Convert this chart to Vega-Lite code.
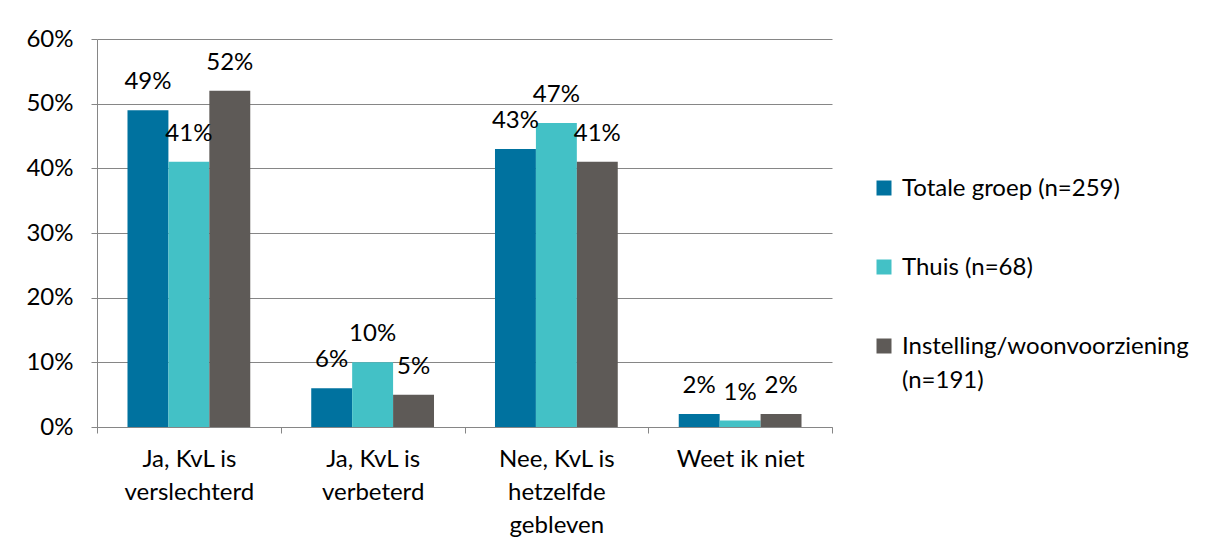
{
  "$schema": "https://vega.github.io/schema/vega-lite/v6.json",
  "width": 735,
  "height": 388,
  "padding": {"left": 25, "top": 27, "right": 5, "bottom": 5},
  "background": "white",
  "config": {
    "font": "Lato",
    "view": {"stroke": null},
    "axis": {"labelFont": "Lato", "labelFontSize": 24, "labelColor": "#000000"},
    "legend": {"labelFont": "Lato", "labelFontSize": 24, "labelColor": "#000000"}
  },
  "data": {
    "values": [
      {"categorie": "Ja, KvL is verslechterd", "groep": "Totale groep (n=259)", "waarde": 0.49},
      {"categorie": "Ja, KvL is verslechterd", "groep": "Thuis (n=68)", "waarde": 0.41},
      {"categorie": "Ja, KvL is verslechterd", "groep": "Instelling/woonvoorziening (n=191)", "waarde": 0.52},
      {"categorie": "Ja, KvL is verbeterd", "groep": "Totale groep (n=259)", "waarde": 0.06},
      {"categorie": "Ja, KvL is verbeterd", "groep": "Thuis (n=68)", "waarde": 0.10},
      {"categorie": "Ja, KvL is verbeterd", "groep": "Instelling/woonvoorziening (n=191)", "waarde": 0.05},
      {"categorie": "Nee, KvL is hetzelfde gebleven", "groep": "Totale groep (n=259)", "waarde": 0.43},
      {"categorie": "Nee, KvL is hetzelfde gebleven", "groep": "Thuis (n=68)", "waarde": 0.47},
      {"categorie": "Nee, KvL is hetzelfde gebleven", "groep": "Instelling/woonvoorziening (n=191)", "waarde": 0.41},
      {"categorie": "Weet ik niet", "groep": "Totale groep (n=259)", "waarde": 0.02},
      {"categorie": "Weet ik niet", "groep": "Thuis (n=68)", "waarde": 0.01},
      {"categorie": "Weet ik niet", "groep": "Instelling/woonvoorziening (n=191)", "waarde": 0.02}
    ]
  },
  "encoding": {
    "x": {
      "field": "categorie",
      "type": "nominal",
      "sort": null,
      "scale": {"paddingInner": 0, "paddingOuter": 0},
      "axis": {
        "title": null,
        "labelAngle": 0,
        "domainColor": "#868686",
        "tickColor": "#868686",
        "tickSize": 6,
        "tickBand": "extent",
        "labelPadding": 14,
        "labelLineHeight": 33,
        "labelBaseline": "top",
        "labelExpr": "datum.label == 'Ja, KvL is verslechterd' ? ['Ja, KvL is', 'verslechterd'] : datum.label == 'Ja, KvL is verbeterd' ? ['Ja, KvL is', 'verbeterd'] : datum.label == 'Nee, KvL is hetzelfde gebleven' ? ['Nee, KvL is', 'hetzelfde', 'gebleven'] : datum.label"
      }
    },
    "xOffset": {
      "field": "groep",
      "type": "nominal",
      "sort": null,
      "scale": {"paddingInner": 0, "paddingOuter": 0.745}
    },
    "y": {
      "field": "waarde",
      "type": "quantitative",
      "scale": {"domain": [0, 0.6]},
      "axis": {
        "title": null,
        "values": [0, 0.1, 0.2, 0.3, 0.4, 0.5, 0.6],
        "format": ".0%",
        "domainColor": "#868686",
        "tickColor": "#868686",
        "tickSize": 6,
        "labelPadding": 18,
        "grid": true,
        "gridColor": "#868686"
      }
    }
  },
  "layer": [
    {
      "mark": {"type": "bar"},
      "encoding": {
        "color": {
          "field": "groep",
          "type": "nominal",
          "sort": null,
          "scale": {"range": ["#00729F", "#43C1C6", "#5E5A57"]},
          "legend": {
            "title": null,
            "orient": "none",
            "legendX": 775,
            "legendY": 137,
            "symbolType": "square",
            "symbolSize": 225,
            "symbolStrokeWidth": 0,
            "rowPadding": 54,
            "labelOffset": 6,
            "labelLimit": 400,
            "labelBaseline": "alphabetic",
            "encode": {"labels": {"update": {"dy": {"value": 8}, "lineHeight": {"value": 34}}}},
            "labelExpr": "datum.label == 'Instelling/woonvoorziening (n=191)' ? ['Instelling/woonvoorziening', '(n=191)'] : datum.label"
          }
        }
      }
    },
    {
      "mark": {"type": "text", "baseline": "alphabetic", "dy": -21, "fontSize": 24, "font": "Lato", "color": "#000000"},
      "encoding": {
        "text": {"field": "waarde", "type": "quantitative", "format": ".0%"},
        "xOffset": {"field": "groep", "type": "nominal", "sort": null}
      }
    }
  ]
}
